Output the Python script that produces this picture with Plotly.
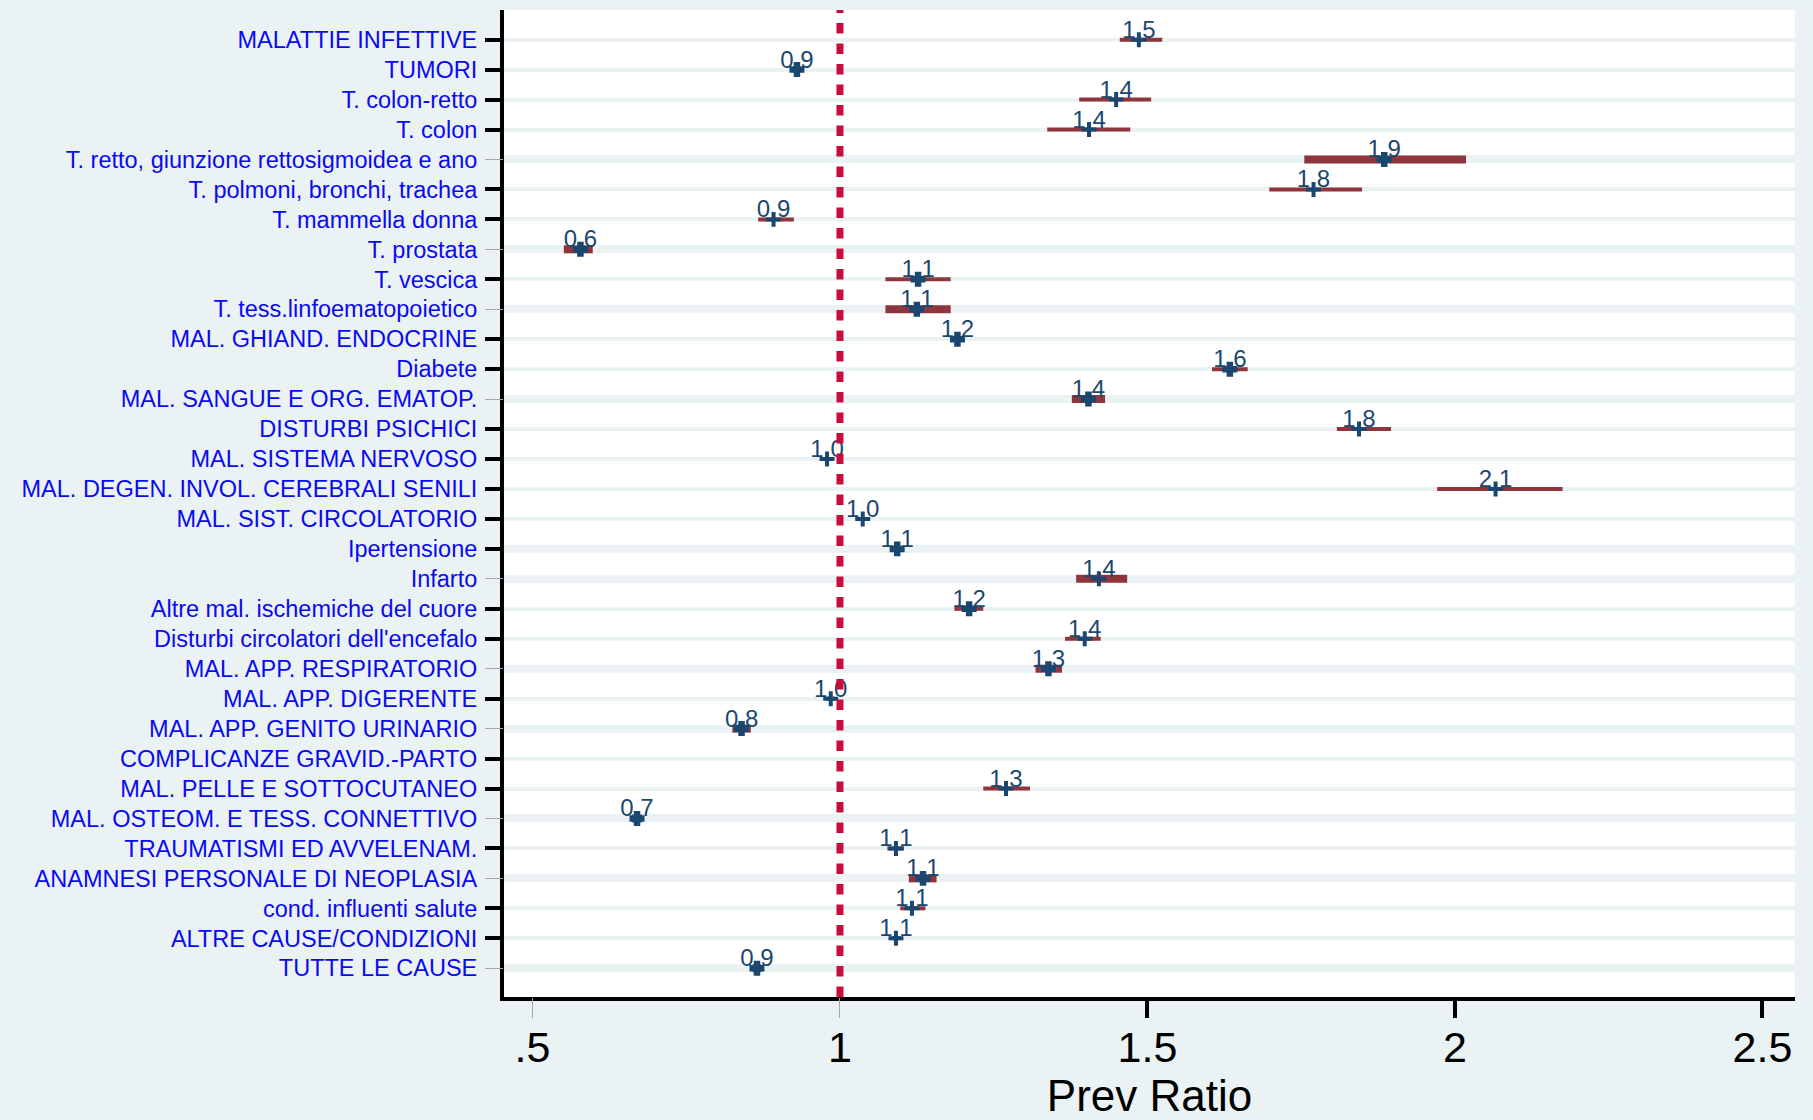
import plotly.graph_objects as go

# ---------------- data ----------------
categories = [
    "MALATTIE INFETTIVE",
    "TUMORI",
    "T. colon-retto",
    "T. colon",
    "T. retto, giunzione rettosigmoidea e ano",
    "T. polmoni, bronchi, trachea",
    "T. mammella donna",
    "T. prostata",
    "T. vescica",
    "T. tess.linfoematopoietico",
    "MAL. GHIAND. ENDOCRINE",
    "Diabete",
    "MAL. SANGUE E ORG. EMATOP.",
    "DISTURBI PSICHICI",
    "MAL. SISTEMA NERVOSO",
    "MAL. DEGEN. INVOL. CEREBRALI SENILI",
    "MAL. SIST. CIRCOLATORIO",
    "Ipertensione",
    "Infarto",
    "Altre mal. ischemiche del cuore",
    "Disturbi circolatori dell'encefalo",
    "MAL. APP. RESPIRATORIO",
    "MAL. APP. DIGERENTE",
    "MAL. APP. GENITO URINARIO",
    "COMPLICANZE GRAVID.-PARTO",
    "MAL. PELLE E SOTTOCUTANEO",
    "MAL. OSTEOM. E TESS. CONNETTIVO",
    "TRAUMATISMI ED AVVELENAM.",
    "ANAMNESI PERSONALE DI NEOPLASIA",
    "cond. influenti salute",
    "ALTRE CAUSE/CONDIZIONI",
    "TUTTE LE CAUSE",
]

prev_ratio = [1.486, 0.930, 1.449, 1.405, 1.885, 1.770, 0.892, 0.578, 1.127, 1.125,
              1.191, 1.634, 1.404, 1.844, 0.979, 2.066, 1.037, 1.093, 1.421, 1.210,
              1.398, 1.339, 0.985, 0.840, None, 1.270, 0.670, 1.091, 1.135, 1.117,
              1.091, 0.865]

ci_low = [1.455, 0.921, 1.389, 1.337, 1.755, 1.698, 0.867, 0.551, 1.074, 1.074,
          1.183, 1.605, 1.377, 1.808, 0.972, 1.971, 1.030, 1.087, 1.384, 1.186,
          1.366, 1.318, 0.978, 0.825, None, 1.233, 0.662, 1.077, 1.112, 1.098,
          1.084, 0.858]

ci_high = [1.524, 0.939, 1.506, 1.472, 2.018, 1.849, 0.925, 0.598, 1.180, 1.180,
           1.199, 1.663, 1.431, 1.896, 0.986, 2.175, 1.044, 1.099, 1.467, 1.233,
           1.424, 1.361, 0.992, 0.855, None, 1.309, 0.678, 1.104, 1.157, 1.139,
           1.098, 0.872]

x_tickvals = [0.5, 1, 1.5, 2, 2.5]
x_ticktext = [".5", "1", "1.5", "2", "2.5"]
x_major_ticks = [1.5, 2, 2.5]
x_minor_ticks = [0.5, 1]
ref_line = 1.0

# ---------------- styling groups ----------------
gray_tick_rows = [
    "T. retto, giunzione rettosigmoidea e ano", "T. prostata", "T. tess.linfoematopoietico",
    "MAL. SANGUE E ORG. EMATOP.", "Infarto", "MAL. APP. RESPIRATORIO",
    "MAL. APP. GENITO URINARIO", "MAL. OSTEOM. E TESS. CONNETTIVO",
    "ANAMNESI PERSONALE DI NEOPLASIA", "TUTTE LE CAUSE",
]
thick_grid_rows = gray_tick_rows + ["Ipertensione"]
thick_bar_rows = gray_tick_rows
bold_marker_rows = [
    "TUMORI", "T. retto, giunzione rettosigmoidea e ano", "T. prostata", "T. vescica",
    "T. tess.linfoematopoietico", "MAL. GHIAND. ENDOCRINE", "Diabete",
    "MAL. SANGUE E ORG. EMATOP.", "Ipertensione", "Altre mal. ischemiche del cuore",
    "MAL. APP. RESPIRATORIO", "MAL. APP. GENITO URINARIO",
    "MAL. OSTEOM. E TESS. CONNETTIVO", "ANAMNESI PERSONALE DI NEOPLASIA", "TUTTE LE CAUSE",
]

NAVY = "#1A476F"
MAROON = "#90353B"
BG = "#EAF2F3"
LABEL_BLUE = "#0A0AF0"
RED = "#C80C3C"
FONT = "Liberation Sans, Arial, sans-serif"

ypos = {c: i for i, c in enumerate(categories)}


def ci_segments(rows, thick):
    xs, ys = [], []
    for c, lo, hi in zip(categories, ci_low, ci_high):
        if lo is None:
            continue
        if (c in rows) == thick:
            xs += [lo, hi, None]
            ys += [ypos[c], ypos[c], None]
    return xs, ys


def points(rows, bold):
    xs, ys = [], []
    for c, v in zip(categories, prev_ratio):
        if v is None:
            continue
        if (c in rows) == bold:
            xs.append(v)
            ys.append(ypos[c])
    return xs, ys


XR = [0.4537, 2.5529]
YR = [31.96, -0.99]
LABEL_DROP = 0.134          # value labels sit a few pixels lower (own axis range)
YR_LABELS = [YR[0] - LABEL_DROP, YR[1] - LABEL_DROP]
idx = list(range(len(categories)))

fig = go.Figure()

for thick, w in [(False, 4), (True, 8)]:
    xs, ys = ci_segments(thick_bar_rows, thick)
    fig.add_trace(go.Scatter(x=xs, y=ys, mode="lines",
                             line=dict(color=MAROON, width=w),
                             hoverinfo="skip", showlegend=False))

fig.add_trace(go.Scatter(
    x=prev_ratio, y=[ypos[c] for c in categories], yaxis="y5", mode="text",
    texttemplate="%{x:.1f}", textposition="top center",
    textfont=dict(size=24, color=NAVY, family=FONT),
    hoverinfo="skip", showlegend=False))

for bold, w in [(False, 4), (True, 6.5)]:
    xs, ys = points(bold_marker_rows, bold)
    fig.add_trace(go.Scatter(x=xs, y=ys, mode="markers",
                             marker=dict(symbol="cross-thin", size=10.7, color=NAVY,
                                         line=dict(color=NAVY, width=w)),
                             hoverinfo="skip", showlegend=False))

# empty traces so that the overlay axes (tick styles / thick grid) get drawn
for xa, ya in [("x2", "y"), ("x3", "y"), ("x", "y2"), ("x", "y3"), ("x", "y4")]:
    fig.add_trace(go.Scatter(x=[None], y=[None], xaxis=xa, yaxis=ya, mode="markers",
                             hoverinfo="skip", showlegend=False))

fig.add_shape(type="line", xref="x", yref="paper", x0=ref_line, x1=ref_line, y0=0, y1=1,
              line=dict(color=RED, width=7, dash="10.5px,10px"), layer="above")

hidden = dict(showticklabels=False, showline=False, showgrid=False, zeroline=False,
              automargin=False)

fig.update_layout(
    width=1813, height=1120,
    margin=dict(l=504, r=18, t=10, b=123, autoexpand=False),
    paper_bgcolor=BG, plot_bgcolor="white",
    font=dict(family=FONT),
    showlegend=False,
    xaxis=dict(
        range=XR, tickmode="array", tickvals=x_tickvals, ticktext=x_ticktext,
        ticks="outside", ticklen=20, tickcolor="rgba(0,0,0,0)", ticklabelstandoff=-10,
        tickfont=dict(size=43, color="black", family=FONT),
        showline=True, linecolor="black", linewidth=3.5,
        showgrid=False, zeroline=False, automargin=False,
        title=dict(text="Prev Ratio", font=dict(size=44, color="black", family=FONT), standoff=4),
    ),
    xaxis2=dict(
        overlaying="x", anchor="y", side="bottom", range=XR,
        tickmode="array", tickvals=x_major_ticks, ticks="outside", ticklen=20,
        tickwidth=4, tickcolor="black", linewidth=3.5, **hidden,
    ),
    xaxis3=dict(
        overlaying="x", anchor="y", side="bottom", range=XR,
        tickmode="array", tickvals=x_minor_ticks, ticks="outside", ticklen=20,
        tickwidth=1, tickcolor="#A8A8A8", linewidth=3.5, **hidden,
    ),
    yaxis=dict(
        range=YR, tickmode="array", tickvals=idx, ticktext=categories,
        ticks="outside", ticklen=18, tickcolor="rgba(0,0,0,0)",
        tickfont=dict(size=23.5, color=LABEL_BLUE, family=FONT),
        showline=True, linecolor="black", linewidth=4,
        showgrid=True, gridcolor=BG, gridwidth=3.6, zeroline=False, automargin=False,
    ),
    yaxis2=dict(
        overlaying="y", anchor="x", side="left", range=YR,
        tickmode="array", tickvals=[ypos[c] for c in categories if c not in gray_tick_rows],
        ticks="outside", ticklen=18, tickwidth=4, tickcolor="black", linewidth=4, **hidden,
    ),
    yaxis3=dict(
        overlaying="y", anchor="x", side="left", range=YR,
        tickmode="array", tickvals=[ypos[c] for c in gray_tick_rows],
        ticks="outside", ticklen=18, tickwidth=1, tickcolor="#A8A8A8", linewidth=4, **hidden,
    ),
    yaxis4=dict(
        overlaying="y", anchor="x", side="left", range=YR,
        tickmode="array", tickvals=[ypos[c] for c in thick_grid_rows],
        ticks="", showticklabels=False, showline=False,
        showgrid=True, gridcolor=BG, gridwidth=8, zeroline=False, automargin=False,
    ),
    yaxis5=dict(
        overlaying="y", anchor="x", side="left", range=YR_LABELS,
        ticks="", **hidden,
    ),
)

fig.write_html("out.html", config={"displayModeBar": False},
               post_script="document.body.style.margin='0px';")
